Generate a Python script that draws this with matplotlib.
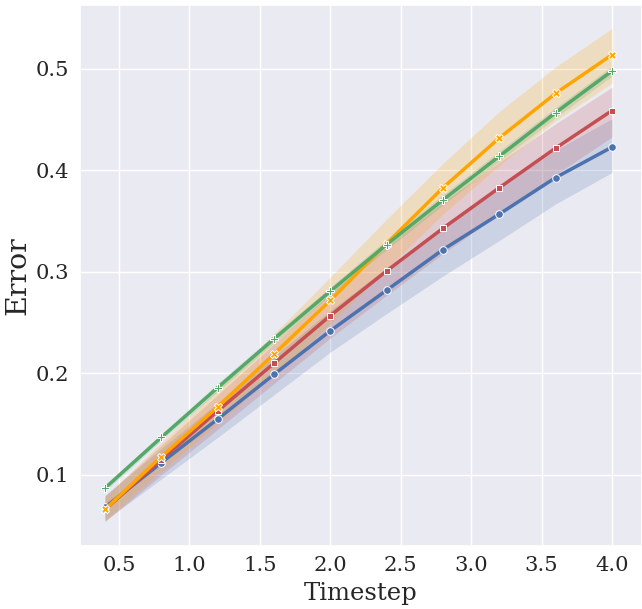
import numpy as np
import matplotlib
matplotlib.use("Agg")
import matplotlib.pyplot as plt
import seaborn as sns

# data
timestep = [0.4, 0.8, 1.2, 1.6, 2.0, 2.4, 2.8, 3.2, 3.6, 4.0]

blue = [0.068, 0.112, 0.155, 0.199, 0.242, 0.282, 0.322, 0.357, 0.393, 0.423]
blue_lo = [0.055, 0.096, 0.137, 0.179, 0.221, 0.259, 0.296, 0.331, 0.367, 0.398]
blue_hi = [0.080, 0.126, 0.171, 0.217, 0.262, 0.304, 0.346, 0.383, 0.420, 0.451]

red = [0.066, 0.115, 0.163, 0.210, 0.257, 0.301, 0.343, 0.383, 0.422, 0.459]
red_lo = [0.054, 0.100, 0.145, 0.190, 0.235, 0.277, 0.318, 0.357, 0.396, 0.433]
red_hi = [0.079, 0.129, 0.179, 0.229, 0.279, 0.325, 0.369, 0.408, 0.446, 0.482]

orange = [0.066, 0.118, 0.167, 0.219, 0.272, 0.328, 0.383, 0.432, 0.476, 0.514]
orange_lo = [0.055, 0.104, 0.150, 0.199, 0.249, 0.303, 0.357, 0.405, 0.449, 0.486]
orange_hi = [0.078, 0.132, 0.184, 0.239, 0.295, 0.352, 0.407, 0.458, 0.502, 0.540]

green = [0.087, 0.137, 0.186, 0.234, 0.281, 0.327, 0.371, 0.414, 0.457, 0.498]
green_lo = [0.084, 0.134, 0.182, 0.230, 0.277, 0.322, 0.366, 0.409, 0.452, 0.493]
green_hi = [0.090, 0.140, 0.190, 0.238, 0.285, 0.332, 0.376, 0.419, 0.462, 0.503]

series = [
    (blue, blue_lo, blue_hi, "#4C72B0", "o", 5.5),
    (red, red_lo, red_hi, "#C44E52", "s", 4.5),
    (orange, orange_lo, orange_hi, "#FFA500", "X", 6),
    (green, green_lo, green_hi, "#55A868", "P", 6),
]

sns.set_theme(style="darkgrid")
plt.rcParams['font.family'] = ['DejaVu Serif']

fig = plt.figure(figsize=(6.42, 6.09), dpi=100)
ax = fig.add_axes([80 / 642, 1 - 546 / 609, 1 - 80 / 642, 541 / 609])

for y, lo, hi, c, m, ms in series:
    ax.fill_between(timestep, lo, hi, color=c, alpha=0.2, linewidth=0)
for y, lo, hi, c, m, ms in series:
    ax.plot(timestep, y, color=c, lw=2.5, marker=m, ms=ms,
            mec="white", mew=0.7)

ax.set_xlim(0.223, 4.213)
ax.set_ylim(0.030, 0.563)
ax.set_xticks([0.5, 1.0, 1.5, 2.0, 2.5, 3.0, 3.5, 4.0])
ax.set_yticks([0.1, 0.2, 0.3, 0.4, 0.5])
ax.tick_params(labelsize=15.2, length=0)
ax.tick_params(axis="x", pad=7)
ax.tick_params(axis="y", pad=8)
ax.set_xlabel("Timestep", fontsize=17.5, labelpad=5)
ax.set_ylabel("Error", fontsize=20.5, labelpad=3)

fig.savefig("out.png", dpi=100)
